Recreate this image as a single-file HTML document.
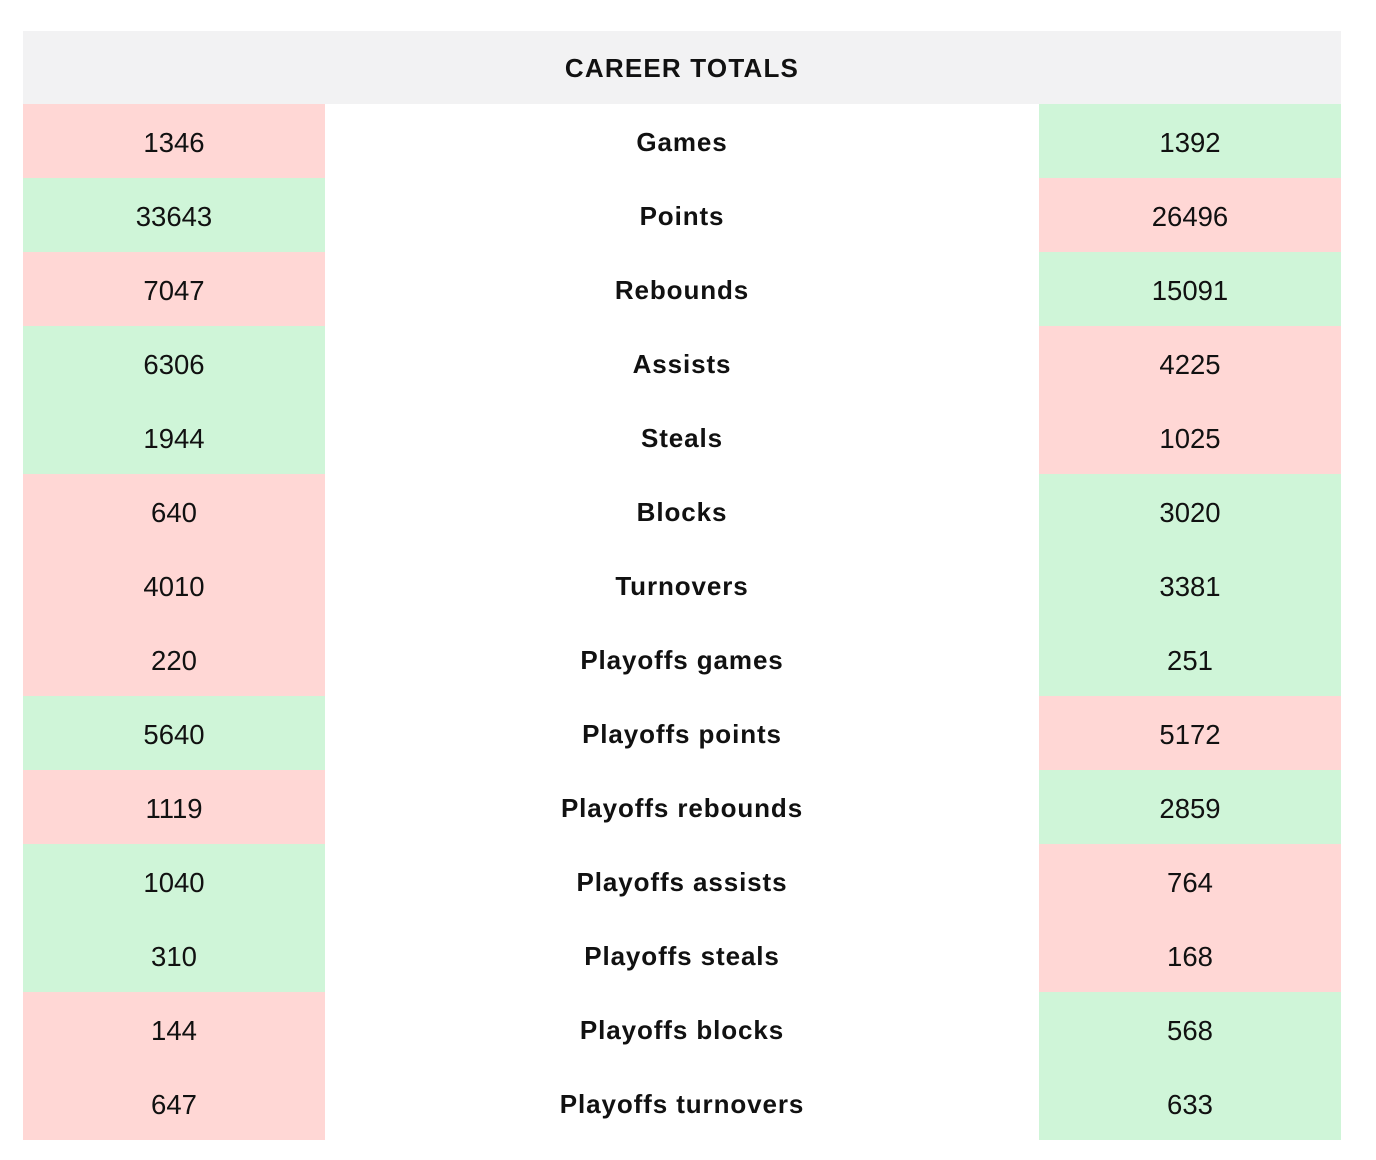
<!DOCTYPE html>
<html><head><style>
body{margin:0;width:1376px;height:1160px;background:#fff;position:relative;font-family:"Liberation Sans",Arial,sans-serif;}
.h{position:absolute;left:23px;top:31px;width:1318px;height:73px;background:#f2f2f3;text-align:center;line-height:75px;font-weight:bold;font-size:26px;color:#111;letter-spacing:1.2px}
.r{position:absolute;left:23px;width:1318px;height:74px;font-size:27.5px;color:#111}
.r div{position:absolute;top:0;height:74px;line-height:77px;text-align:center}
.a{left:0;width:302px}.m{left:302px;width:714px;font-weight:bold;font-size:26px;letter-spacing:0.9px}.b{left:1016px;width:302px}
.p{background:#ffd7d5}.g{background:#cff5d8}
</style></head><body>
<div class="h">CAREER TOTALS</div>
<div class="r" style="top:104px"><div class="a p">1346</div><div class="m">Games</div><div class="b g">1392</div></div>
<div class="r" style="top:178px"><div class="a g">33643</div><div class="m">Points</div><div class="b p">26496</div></div>
<div class="r" style="top:252px"><div class="a p">7047</div><div class="m">Rebounds</div><div class="b g">15091</div></div>
<div class="r" style="top:326px"><div class="a g">6306</div><div class="m">Assists</div><div class="b p">4225</div></div>
<div class="r" style="top:400px"><div class="a g">1944</div><div class="m">Steals</div><div class="b p">1025</div></div>
<div class="r" style="top:474px"><div class="a p">640</div><div class="m">Blocks</div><div class="b g">3020</div></div>
<div class="r" style="top:548px"><div class="a p">4010</div><div class="m">Turnovers</div><div class="b g">3381</div></div>
<div class="r" style="top:622px"><div class="a p">220</div><div class="m">Playoffs games</div><div class="b g">251</div></div>
<div class="r" style="top:696px"><div class="a g">5640</div><div class="m">Playoffs points</div><div class="b p">5172</div></div>
<div class="r" style="top:770px"><div class="a p">1119</div><div class="m">Playoffs rebounds</div><div class="b g">2859</div></div>
<div class="r" style="top:844px"><div class="a g">1040</div><div class="m">Playoffs assists</div><div class="b p">764</div></div>
<div class="r" style="top:918px"><div class="a g">310</div><div class="m">Playoffs steals</div><div class="b p">168</div></div>
<div class="r" style="top:992px"><div class="a p">144</div><div class="m">Playoffs blocks</div><div class="b g">568</div></div>
<div class="r" style="top:1066px"><div class="a p">647</div><div class="m">Playoffs turnovers</div><div class="b g">633</div></div>
</body></html>
